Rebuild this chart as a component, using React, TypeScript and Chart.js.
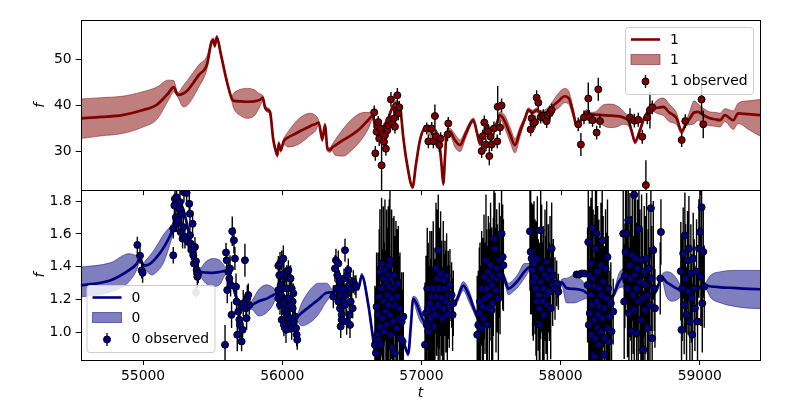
import React, { useEffect, useRef } from "react";
import { Chart, registerables } from "chart.js";

Chart.register(...registerables);

// ---------- axes ----------
const X_MIN = 54552;
const X_MAX = 59435;
const X_TICKS = [55000, 56000, 57000, 58000, 59000];
const TOP_Y_MIN = 21.6;
const TOP_Y_MAX = 58.5;
const TOP_Y_TICKS = [30, 40, 50];
const BOT_Y_MIN = 0.832;
const BOT_Y_MAX = 1.867;
const BOT_Y_TICKS = [1.0, 1.2, 1.4, 1.6, 1.8];

// ---------- top panel ("1") GP prediction ----------
const topT = [54552, 54700, 54850, 55000, 55100, 55180, 55220, 55250, 55289, 55320, 55400, 55460, 55490, 55505, 55515, 55530, 55560, 55600, 55637, 55650, 55700, 55750, 55800, 55840, 55860, 55876, 55895, 55912, 55936, 55955, 55965, 55975, 55990, 56010, 56040, 56090, 56140, 56200, 56240, 56262, 56288, 56307, 56325, 56345, 56355, 56380, 56440, 56500, 56560, 56620, 56650, 56670, 56700, 56730, 56760, 56790, 56820, 56846, 56870, 56893, 56937, 56960, 56990, 57025, 57050, 57080, 57110, 57130, 57145, 57157, 57170, 57181, 57205, 57240, 57277, 57320, 57373, 57400, 57421, 57445, 57469, 57500, 57540, 57565, 57600, 57640, 57672, 57710, 57745, 57768, 57800, 57830, 57860, 57900, 57930, 57980, 58030, 58060, 58090, 58115, 58150, 58187, 58210, 58250, 58300, 58350, 58400, 58450, 58490, 58510, 58535, 58570, 58600, 58630, 58660, 58700, 58738, 58780, 58834, 58870, 58900, 58929, 58960, 58989, 59020, 59073, 59110, 59145, 59181, 59241, 59276, 59350, 59435];
const topMean = [37.2, 37.5, 37.9, 39.0, 40.2, 42.6, 44.0, 42.3, 42.6, 43.3, 46.6, 49.0, 53.6, 54.2, 53.0, 54.8, 51.0, 45.5, 41.5, 41.0, 40.9, 40.8, 40.9, 41.2, 41.7, 39.6, 39.0, 38.6, 32.5, 30.0, 29.2, 31.7, 30.3, 32.2, 33.0, 33.8, 34.6, 35.5, 36.0, 36.3, 32.6, 35.7, 30.6, 30.3, 30.8, 31.3, 32.5, 33.6, 35.0, 36.9, 37.8, 35.0, 34.0, 35.5, 37.0, 39.5, 40.5, 39.7, 33.0, 28.0, 22.3, 27.0, 32.5, 35.0, 35.0, 33.8, 33.2, 31.5, 27.0, 23.0, 29.0, 33.9, 34.3, 32.5, 31.4, 34.0, 36.8, 34.0, 31.7, 33.5, 35.7, 34.5, 36.0, 37.9, 36.5, 33.5, 31.4, 34.5, 37.2, 39.0, 38.5, 39.0, 38.3, 38.5, 39.5, 40.8, 42.0, 41.5, 38.5, 35.7, 37.0, 38.6, 38.0, 38.0, 37.9, 37.8, 37.7, 37.4, 36.5, 34.5, 32.1, 34.6, 37.2, 38.6, 39.3, 39.5, 39.7, 38.5, 37.2, 34.3, 36.0, 37.2, 38.5, 38.6, 38.0, 37.2, 37.0, 36.8, 37.9, 36.8, 38.3, 38.1, 37.9];
const topHi = [41.4, 41.7, 42.0, 43.0, 44.0, 45.5, 45.4, 42.8, 44.3, 45.5, 48.8, 50.8, 54.1, 54.7, 53.5, 55.3, 51.5, 46.0, 42.0, 42.6, 43.5, 43.7, 43.4, 42.5, 42.2, 40.1, 39.5, 39.1, 33.0, 30.5, 29.7, 32.2, 30.8, 32.7, 34.2, 36.2, 37.6, 38.3, 37.8, 36.8, 33.1, 36.2, 31.1, 30.8, 31.3, 32.5, 35.0, 37.0, 38.3, 38.5, 38.3, 35.5, 34.5, 36.0, 37.5, 40.0, 41.0, 40.2, 33.5, 28.5, 22.8, 27.5, 33.0, 35.5, 35.8, 35.0, 34.6, 32.5, 27.6, 23.5, 29.5, 34.4, 35.0, 33.8, 32.5, 34.8, 37.3, 34.5, 32.2, 34.0, 36.2, 35.0, 36.5, 38.6, 37.8, 35.0, 32.8, 35.5, 37.7, 39.5, 39.0, 39.5, 38.8, 39.3, 40.3, 42.5, 43.7, 43.0, 39.5, 36.2, 37.5, 39.1, 38.5, 38.6, 40.0, 40.3, 40.0, 38.8, 37.2, 35.0, 32.6, 35.1, 37.7, 39.1, 39.9, 41.3, 41.6, 40.3, 38.3, 34.8, 36.5, 38.8, 41.0, 40.3, 39.5, 38.6, 38.5, 38.3, 39.3, 38.8, 40.5, 41.0, 41.3];
const topLo = [32.8, 33.4, 33.9, 35.3, 37.0, 41.0, 42.9, 41.8, 39.7, 40.1, 44.0, 48.0, 53.1, 53.7, 52.5, 54.3, 50.5, 45.0, 41.0, 39.5, 37.8, 37.2, 37.8, 39.8, 41.0, 39.1, 38.5, 38.1, 32.0, 29.5, 28.7, 31.2, 29.8, 31.6, 31.0, 31.2, 32.0, 33.5, 34.5, 35.8, 32.1, 35.2, 30.1, 29.8, 30.3, 29.2, 29.0, 30.3, 32.2, 35.0, 37.0, 34.5, 33.5, 35.0, 36.5, 39.0, 40.0, 39.2, 32.5, 27.5, 21.8, 26.5, 32.0, 34.5, 34.0, 32.3, 31.5, 30.0, 26.4, 22.5, 28.5, 33.4, 33.5, 31.0, 30.0, 33.0, 36.3, 33.5, 31.2, 33.0, 35.2, 34.0, 35.5, 37.0, 35.0, 31.8, 29.7, 33.3, 36.7, 38.5, 38.0, 38.5, 37.8, 37.5, 38.7, 39.3, 40.6, 40.2, 37.5, 35.2, 36.5, 38.1, 37.5, 37.3, 35.8, 35.2, 35.3, 35.9, 35.5, 34.0, 31.6, 34.1, 36.7, 38.1, 38.7, 38.2, 37.8, 36.5, 35.8, 33.8, 35.5, 35.8, 36.0, 36.8, 36.0, 35.6, 35.5, 35.3, 36.5, 34.8, 36.1, 34.8, 33.3];

// ---------- bottom panel ("0") GP prediction ----------
const botT = [54552, 54763, 54900, 54954, 54978, 55002, 55030, 55060, 55100, 55150, 55200, 55240, 55275, 55313, 55361, 55409, 55450, 55500, 55550, 55590, 55610, 55637, 55673, 55709, 55744, 55780, 55830, 55888, 55940, 55960, 56032, 56080, 56104, 56140, 56200, 56260, 56319, 56367, 56439, 56511, 56547, 56571, 56619, 56650, 56667, 56700, 56730, 56760, 56790, 56820, 56850, 56880, 56905, 56925, 56941, 56965, 56990, 57025, 57060, 57100, 57150, 57205, 57253, 57301, 57340, 57380, 57409, 57450, 57500, 57541, 57565, 57601, 57625, 57661, 57697, 57740, 57780, 57840, 57900, 57960, 57980, 58006, 58043, 58100, 58160, 58211, 58270, 58331, 58379, 58420, 58463, 58500, 58560, 58619, 58679, 58727, 58760, 58800, 58840, 58882, 58954, 59037, 59080, 59150, 59241, 59350, 59435];
const botMean = [1.287, 1.317, 1.38, 1.418, 1.453, 1.408, 1.41, 1.425, 1.46, 1.52, 1.6, 1.69, 1.77, 1.67, 1.47, 1.372, 1.365, 1.363, 1.368, 1.375, 1.37, 1.307, 1.206, 1.145, 1.15, 1.166, 1.19, 1.206, 1.23, 1.236, 1.206, 1.135, 1.095, 1.12, 1.16, 1.2, 1.242, 1.246, 1.277, 1.287, 1.267, 1.347, 1.166, 0.98, 0.883, 0.85, 0.95, 1.05, 1.1, 1.05, 1.0, 0.92, 0.87, 1.05, 1.205, 1.175, 1.12, 1.06, 1.1, 1.12, 1.13, 1.156, 1.196, 1.285, 1.23, 1.14, 1.085, 1.15, 1.22, 1.347, 1.388, 1.317, 1.265, 1.287, 1.32, 1.37, 1.398, 1.36, 1.32, 1.287, 1.226, 1.307, 1.27, 1.265, 1.255, 1.226, 1.21, 1.196, 1.226, 1.31, 1.343, 1.345, 1.34, 1.337, 1.246, 1.337, 1.307, 1.285, 1.265, 1.246, 1.257, 1.287, 1.28, 1.275, 1.271, 1.266, 1.263];
const botHi = [1.398, 1.424, 1.48, 1.47, 1.47, 1.425, 1.45, 1.48, 1.53, 1.6, 1.65, 1.705, 1.785, 1.685, 1.485, 1.392, 1.43, 1.45, 1.44, 1.4, 1.385, 1.322, 1.221, 1.16, 1.165, 1.19, 1.26, 1.29, 1.27, 1.251, 1.221, 1.15, 1.11, 1.18, 1.26, 1.3, 1.3, 1.261, 1.292, 1.302, 1.282, 1.362, 1.181, 0.995, 0.898, 0.865, 0.965, 1.065, 1.115, 1.065, 1.015, 0.935, 0.885, 1.065, 1.22, 1.21, 1.16, 1.075, 1.115, 1.135, 1.145, 1.171, 1.215, 1.31, 1.26, 1.16, 1.1, 1.165, 1.235, 1.362, 1.403, 1.34, 1.3, 1.32, 1.36, 1.42, 1.42, 1.375, 1.335, 1.302, 1.241, 1.322, 1.33, 1.35, 1.31, 1.241, 1.225, 1.211, 1.241, 1.36, 1.39, 1.37, 1.355, 1.352, 1.261, 1.352, 1.37, 1.36, 1.32, 1.261, 1.272, 1.3, 1.35, 1.37, 1.378, 1.378, 1.378];
const botLo = [1.216, 1.246, 1.31, 1.38, 1.436, 1.39, 1.37, 1.35, 1.37, 1.43, 1.555, 1.675, 1.755, 1.655, 1.455, 1.352, 1.3, 1.28, 1.29, 1.35, 1.355, 1.292, 1.191, 1.13, 1.135, 1.14, 1.1, 1.12, 1.18, 1.221, 1.191, 1.12, 1.08, 1.04, 1.06, 1.11, 1.19, 1.231, 1.262, 1.272, 1.252, 1.332, 1.151, 0.965, 0.868, 0.835, 0.935, 1.035, 1.085, 1.035, 0.985, 0.905, 0.855, 1.035, 1.19, 1.13, 1.07, 1.045, 1.085, 1.105, 1.115, 1.141, 1.175, 1.255, 1.19, 1.115, 1.07, 1.135, 1.205, 1.332, 1.373, 1.29, 1.23, 1.25, 1.28, 1.33, 1.375, 1.345, 1.305, 1.272, 1.211, 1.292, 1.18, 1.18, 1.2, 1.211, 1.195, 1.181, 1.211, 1.27, 1.28, 1.31, 1.325, 1.322, 1.231, 1.322, 1.22, 1.19, 1.2, 1.231, 1.242, 1.27, 1.21, 1.18, 1.16, 1.148, 1.145];

// ---------- observations: [t, f, error] ----------
const topObs = [
  [56661, 38.5, 1.5], [56669, 29.6, 1.6], [56678, 34.3, 1.4], [56683, 35.4, 1.5], [56690, 36.4, 1.3], [56697, 32.8, 1.6], [56707, 35.0, 1.4], [56714, 27.0, 5.5], [56721, 33.9, 1.5], [56731, 32.1, 1.4], [56738, 33.5, 1.6], [56745, 30.6, 1.5], [56755, 34.6, 1.4], [56762, 35.7, 1.5], [56769, 36.8, 1.4], [56781, 41.3, 1.6], [56793, 36.1, 1.5], [56803, 37.2, 1.4], [56810, 35.4, 1.5], [56822, 39.0, 1.4], [56827, 42.2, 1.6], [56834, 38.3, 1.5], [56841, 39.6, 1.4],
  [57038, 35.0, 1.3], [57050, 32.2, 1.5], [57074, 35.0, 1.4], [57086, 32.2, 1.5], [57097, 37.7, 2.5], [57105, 33.3, 1.4], [57129, 31.4, 1.5], [57138, 32.8, 1.4], [57188, 33.7, 1.5], [57193, 36.1, 1.4],
  [57433, 30.1, 1.5], [57440, 33.3, 1.4], [57452, 36.3, 1.5], [57464, 31.5, 1.4], [57481, 34.3, 1.6], [57488, 29.0, 2.0], [57497, 33.2, 1.5], [57505, 31.5, 1.4], [57521, 35.0, 1.5], [57545, 32.2, 1.5], [57548, 39.7, 4.5], [57565, 35.2, 1.6], [57576, 40.0, 1.5],
  [57785, 34.8, 1.5], [57792, 37.2, 1.4], [57804, 36.1, 1.5], [57816, 36.4, 1.4], [57828, 41.7, 1.6], [57840, 40.6, 1.5], [57857, 37.5, 1.4], [57876, 37.7, 1.5], [57888, 37.2, 1.4], [57900, 36.6, 1.5], [57907, 37.9, 1.4], [57924, 38.4, 1.5], [57936, 39.0, 1.4],
  [58127, 35.9, 1.5], [58146, 31.5, 2.5], [58168, 37.4, 1.5], [58199, 41.5, 3.5], [58206, 37.5, 1.5], [58230, 36.8, 1.4], [58259, 34.1, 1.5], [58271, 43.5, 2.5], [58283, 36.6, 1.5],
  [58499, 37.4, 2.0], [58530, 36.7, 1.5], [58558, 36.9, 1.5], [58587, 33.2, 1.5], [58613, 22.7, 5.4], [58623, 37.4, 1.5], [58642, 39.0, 4.0], [58659, 39.6, 1.5],
  [58870, 32.5, 1.5], [58896, 36.6, 1.5], [59013, 41.3, 3.2], [59025, 35.9, 3.0],
];

const botObsEarly = [
  [54959, 1.533, 0.05], [54978, 1.468, 0.05], [54990, 1.378, 0.05], [54997, 1.363, 0.06],
  [55217, 1.47, 0.05], [55217, 1.632, 0.06], [55225, 1.774, 0.07], [55229, 1.814, 0.06], [55241, 1.824, 0.07], [55236, 1.703, 0.06], [55241, 1.662, 0.05], [55253, 1.683, 0.07], [55260, 1.753, 0.06], [55265, 1.794, 0.08], [55270, 1.612, 0.06], [55277, 1.723, 0.07], [55284, 1.571, 0.06], [55289, 1.642, 0.08], [55294, 1.854, 0.06], [55301, 1.582, 0.07], [55313, 1.85, 0.08], [55325, 1.551, 0.06], [55332, 1.784, 0.07], [55337, 1.723, 0.08], [55337, 1.592, 0.06], [55342, 1.541, 0.07], [55349, 1.501, 0.06], [55356, 1.662, 0.08], [55361, 1.47, 0.06], [55366, 1.42, 0.07], [55373, 1.521, 0.06], [55380, 1.434, 0.07], [55385, 1.38, 0.06], [55390, 1.339, 0.07], [55397, 1.359, 0.06],
  [55589, 0.925, 0.12], [55596, 1.487, 0.06], [55601, 1.44, 0.07], [55605, 1.258, 0.08], [55613, 1.369, 0.07], [55620, 1.329, 0.06], [55625, 1.39, 0.08], [55629, 1.289, 0.07], [55636, 1.107, 0.08], [55641, 1.616, 0.09], [55653, 1.561, 0.08], [55660, 1.45, 0.07], [55668, 1.279, 0.08], [55672, 1.188, 0.07], [55677, 0.986, 0.1], [55684, 1.127, 0.08], [55692, 1.077, 0.07], [55696, 1.046, 0.08], [55708, 0.945, 0.06], [55715, 1.016, 0.07], [55720, 1.178, 0.08], [55732, 1.44, 0.1], [55739, 1.147, 0.08], [55744, 1.087, 0.07], [55749, 1.208, 0.08], [55756, 1.228, 0.07], [55763, 1.167, 0.06],
  [55972, 1.406, 0.06], [55984, 1.42, 0.07], [55996, 1.44, 0.06], [56008, 1.45, 0.08], [55979, 1.349, 0.07], [55989, 1.289, 0.06], [56003, 1.268, 0.07], [56012, 1.359, 0.08], [56020, 1.329, 0.06], [56032, 1.339, 0.07], [56044, 1.38, 0.06], [56051, 1.333, 0.07], [56060, 1.329, 0.08], [56068, 1.268, 0.06], [56075, 1.188, 0.07], [56080, 1.238, 0.06], [55972, 1.208, 0.07], [55984, 1.167, 0.06], [55996, 1.218, 0.08], [56008, 1.178, 0.07], [56020, 1.127, 0.06], [56032, 1.157, 0.07], [56036, 1.107, 0.08], [56044, 1.208, 0.06], [56051, 1.087, 0.07], [56056, 1.056, 0.06], [56068, 1.026, 0.07], [56075, 1.147, 0.08], [56084, 1.066, 0.06], [56092, 1.097, 0.07], [56099, 1.026, 0.06], [56104, 0.986, 0.07], [56108, 0.955, 0.06], [55972, 1.258, 0.07], [55996, 1.077, 0.06], [56012, 1.046, 0.07], [56027, 1.016, 0.08], [55989, 1.228, 0.06], [56032, 1.268, 0.07], [56056, 1.167, 0.06],
  [56367, 1.218, 0.07], [56379, 1.39, 0.08], [56386, 1.44, 0.07], [56391, 1.268, 0.06], [56396, 1.349, 0.07], [56403, 1.42, 0.08], [56403, 1.188, 0.06], [56410, 1.309, 0.07], [56415, 1.147, 0.08], [56420, 1.228, 0.06], [56427, 1.107, 0.07], [56427, 1.077, 0.06], [56434, 1.268, 0.07], [56439, 1.188, 0.08], [56444, 1.329, 0.06], [56451, 1.501, 0.07], [56451, 1.167, 0.06], [56458, 1.228, 0.07], [56463, 1.066, 0.08], [56468, 1.349, 0.06], [56475, 1.38, 0.07], [56475, 1.268, 0.06], [56482, 1.107, 0.07], [56487, 1.299, 0.08], [56492, 1.188, 0.06], [56499, 1.268, 0.07], [56506, 1.147, 0.06], [56511, 1.309, 0.07], [56523, 1.289, 0.06], [56530, 1.279, 0.07], [56420, 1.036, 0.07], [56487, 1.046, 0.08],
];

const botObsMid = [
  [56666, 0.925, 0.36], [56673, 0.874, 0.4], [56678, 1.157, 0.33], [56683, 0.986, 0.42], [56690, 1.107, 0.38], [56690, 0.955, 0.35], [56697, 1.218, 0.41], [56702, 1.036, 0.44], [56707, 0.925, 0.37], [56714, 1.42, 0.4], [56714, 1.268, 0.35], [56721, 1.087, 0.42], [56726, 1.329, 0.44], [56731, 1.188, 0.36], [56731, 1.006, 0.39], [56738, 1.38, 0.43], [56745, 1.127, 0.37], [56750, 1.299, 0.45], [56750, 1.046, 0.36], [56755, 1.228, 0.41], [56762, 1.349, 0.42], [56762, 1.167, 0.35], [56769, 1.279, 0.38], [56774, 1.44, 0.44], [56774, 1.107, 0.36], [56779, 0.986, 0.4], [56786, 1.329, 0.42], [56786, 1.208, 0.37], [56793, 0.905, 0.35], [56798, 1.268, 0.43], [56798, 1.066, 0.38], [56803, 1.349, 0.36], [56810, 1.167, 0.42], [56810, 0.874, 0.32], [56817, 1.289, 0.39], [56822, 1.026, 0.37], [56827, 1.218, 0.41], [56834, 1.299, 0.35], [56841, 1.087, 0.38], [56846, 1.147, 0.34], [56851, 0.965, 0.36], [56858, 1.066, 0.3], [56865, 0.945, 0.32], [56870, 1.097, 0.27], [56702, 1.37, 0.38], [56769, 1.41, 0.4],
  [57026, 0.925, 0.38], [57033, 1.117, 0.35], [57038, 1.046, 0.42], [57042, 1.268, 0.37], [57049, 1.147, 0.4], [57057, 1.066, 0.34], [57061, 1.178, 0.44], [57066, 1.087, 0.36], [57073, 1.218, 0.4], [57081, 1.046, 0.35], [57085, 1.268, 0.41], [57090, 1.147, 0.37], [57097, 1.107, 0.34], [57105, 1.39, 0.4], [57109, 1.218, 0.36], [57114, 1.329, 0.42], [57121, 1.501, 0.34], [57121, 1.167, 0.4], [57128, 1.268, 0.37], [57133, 1.097, 0.33], [57138, 1.359, 0.38], [57145, 1.208, 0.35], [57152, 1.087, 0.31], [57157, 1.319, 0.36], [57162, 1.147, 0.33], [57169, 1.268, 0.29], [57176, 1.188, 0.31], [57181, 1.345, 0.26], [57186, 1.107, 0.3], [57193, 1.228, 0.27], [57200, 1.157, 0.25], [57205, 1.289, 0.22], [57217, 1.228, 0.2], [57224, 1.107, 0.22], [57229, 1.178, 0.2], [57049, 1.006, 0.36], [57090, 1.036, 0.4],
  [57401, 0.986, 0.36], [57409, 1.046, 0.33], [57416, 1.117, 0.4], [57421, 1.188, 0.36], [57426, 1.026, 0.38], [57433, 1.268, 0.35], [57440, 1.157, 0.42], [57445, 1.087, 0.37], [57450, 1.339, 0.38], [57457, 1.208, 0.34], [57464, 1.44, 0.4], [57469, 1.268, 0.36], [57474, 1.147, 0.38], [57481, 1.37, 0.34], [57488, 1.228, 0.4], [57493, 1.309, 0.36], [57497, 1.41, 0.38], [57505, 1.289, 0.35], [57512, 1.178, 0.41], [57517, 1.339, 0.36], [57521, 1.571, 0.38], [57529, 1.511, 0.34], [57536, 1.258, 0.38], [57541, 1.39, 0.36], [57546, 1.329, 0.33], [57553, 1.208, 0.38], [57560, 1.44, 0.35], [57565, 1.349, 0.36], [57576, 1.602, 0.38], [57584, 1.46, 0.32], [57589, 1.41, 0.28], [57469, 1.046, 0.36], [57505, 1.137, 0.38],
  [57780, 1.616, 0.36], [57785, 1.491, 0.38], [57792, 1.45, 0.34], [57799, 1.38, 0.4], [57804, 1.309, 0.36], [57809, 1.42, 0.38], [57816, 1.339, 0.35], [57823, 1.268, 0.41], [57828, 1.188, 0.37], [57833, 1.45, 0.38], [57840, 1.228, 0.34], [57847, 1.147, 0.4], [57852, 1.046, 0.36], [57857, 1.622, 0.38], [57857, 1.309, 0.35], [57864, 1.39, 0.39], [57871, 1.188, 0.36], [57876, 1.268, 0.38], [57881, 1.107, 0.34], [57888, 1.349, 0.4], [57895, 1.228, 0.36], [57900, 1.43, 0.37], [57905, 1.167, 0.34], [57912, 1.329, 0.33], [57919, 1.248, 0.3], [57924, 1.38, 0.33], [57929, 1.147, 0.31], [57936, 1.511, 0.28], [57943, 1.289, 0.25], [57948, 1.349, 0.22], [57960, 1.268, 0.19], [57972, 1.299, 0.14], [57984, 1.248, 0.11],
];

const botObsLate = [
  [58115, 1.353, 0.02], [58131, 1.353, 0.02], [58151, 1.359, 0.02], [58170, 1.359, 0.02],
  [58194, 1.289, 0.35], [58199, 1.551, 0.4], [58203, 1.046, 0.38], [58210, 1.349, 0.42], [58210, 1.117, 0.36], [58218, 1.42, 0.4], [58218, 1.228, 0.44], [58222, 0.986, 0.38], [58227, 1.636, 0.4], [58227, 1.167, 0.35], [58234, 1.329, 0.42], [58234, 0.864, 0.4], [58242, 1.077, 0.38], [58246, 1.279, 0.44], [58251, 1.511, 0.4], [58251, 0.965, 0.36], [58258, 1.188, 0.42], [58258, 1.602, 0.38], [58266, 1.37, 0.4], [58266, 1.026, 0.44], [58270, 1.107, 0.38], [58275, 1.268, 0.42], [58275, 0.925, 0.36], [58282, 1.157, 0.4], [58290, 1.41, 0.38], [58290, 1.006, 0.42], [58294, 1.228, 0.4], [58299, 1.561, 0.36], [58299, 1.087, 0.44], [58306, 1.309, 0.4], [58313, 1.147, 0.38], [58318, 0.965, 0.42], [58323, 1.39, 0.36], [58330, 1.208, 0.4], [58337, 1.026, 0.38], [58337, 1.46, 0.35], [58342, 1.268, 0.32], [58347, 0.945, 0.3], [58354, 1.097, 0.28], [58361, 1.178, 0.25], [58366, 1.006, 0.22], [58378, 1.127, 0.2], [58242, 0.854, 0.4], [58313, 0.864, 0.42],
  [58450, 1.602, 0.3], [58457, 1.188, 0.35], [58462, 1.345, 0.32], [58467, 1.491, 0.38], [58474, 1.602, 0.4], [58481, 1.268, 0.42], [58486, 1.683, 0.36], [58491, 1.117, 0.4], [58498, 1.41, 0.44], [58505, 1.329, 0.38], [58510, 1.006, 0.42], [58515, 1.47, 0.4], [58522, 1.228, 0.36], [58529, 1.838, 0.4], [58529, 1.137, 0.42], [58534, 1.349, 0.38], [58539, 1.45, 0.44], [58546, 1.268, 0.4], [58546, 0.996, 0.36], [58553, 1.39, 0.42], [58558, 1.188, 0.38], [58563, 1.632, 0.4], [58570, 1.309, 0.44], [58577, 1.077, 0.38], [58582, 1.44, 0.4], [58587, 1.208, 0.42], [58594, 0.895, 0.36], [58601, 1.37, 0.4], [58606, 1.137, 0.38], [58611, 1.289, 0.42], [58618, 1.45, 0.4], [58625, 1.026, 0.36], [58630, 1.228, 0.4], [58634, 1.39, 0.38], [58642, 1.167, 0.35], [58649, 1.757, 0.3], [58654, 1.329, 0.32], [58658, 0.965, 0.28], [58666, 1.501, 0.3], [58673, 1.268, 0.26], [58678, 1.147, 0.24], [58721, 1.612, 0.2], [58716, 1.329, 0.22],
  [58864, 1.373, 0.3], [58869, 1.016, 0.26], [58874, 1.268, 0.32], [58881, 1.481, 0.28], [58888, 1.167, 0.3], [58893, 1.592, 0.26], [58898, 1.329, 0.33], [58905, 1.107, 0.29], [58912, 1.44, 0.3], [58917, 1.248, 0.26], [58922, 1.511, 0.32], [58929, 1.066, 0.28], [58936, 1.359, 0.3], [58941, 1.208, 0.27], [58946, 0.986, 0.31], [58953, 1.45, 0.28], [58960, 1.268, 0.3], [58965, 1.147, 0.26], [58977, 1.37, 0.32], [58984, 1.066, 0.28], [58994, 1.511, 0.3], [59001, 1.612, 0.27], [59008, 1.339, 0.3], [59013, 1.763, 0.26], [59018, 1.178, 0.3], [59025, 1.491, 0.28], [59032, 1.279, 0.25],
];

// masked (grey) observation in the bottom panel
const botObsMasked = [[55380, 1.244, 0.035]];

// ---------- colours ----------
const TOP_COLOR = "#800000";
const TOP_BAND = "rgba(128,0,0,0.5)";
const BOT_COLOR = "#000080";
const BOT_BAND = "rgba(0,0,128,0.5)";
const FONT = "DejaVu Sans";
const FS = 13.9;

// ---------- helpers building library data from the arrays ----------
const series = (ts: number[], vs: number[]) => ts.map((t, i) => ({ x: t, y: vs[i] }));
const points = (obs: number[][]) => obs.map((o) => ({ x: o[0], y: o[1] }));
const bars = (obs: number[][]) => {
  const out: any[] = [];
  obs.forEach((o) => {
    out.push({ x: o[0], y: o[1] - o[2] });
    out.push({ x: o[0], y: o[1] + o[2] });
    out.push({ x: o[0], y: null });
  });
  return out;
};

function roundRectPath(ctx: CanvasRenderingContext2D, x: number, y: number, w: number, h: number, r: number) {
  ctx.beginPath();
  ctx.moveTo(x + r, y);
  ctx.lineTo(x + w - r, y);
  ctx.arcTo(x + w, y, x + w, y + r, r);
  ctx.lineTo(x + w, y + h - r);
  ctx.arcTo(x + w, y + h, x + w - r, y + h, r);
  ctx.lineTo(x + r, y + h);
  ctx.arcTo(x, y + h, x, y + h - r, r);
  ctx.lineTo(x, y + r);
  ctx.arcTo(x, y, x + r, y, r);
  ctx.closePath();
}

function drawLegend(ctx: CanvasRenderingContext2D, x0: number, y0: number, color: string, band: string, name: string) {
  ctx.save();
  roundRectPath(ctx, x0 + 0.5, y0 + 0.5, 128, 67, 3);
  ctx.fillStyle = "rgba(255,255,255,0.8)";
  ctx.fill();
  ctx.strokeStyle = "#cccccc";
  ctx.lineWidth = 1;
  ctx.stroke();
  ctx.strokeStyle = color;
  ctx.lineWidth = 2.6;
  ctx.beginPath();
  ctx.moveTo(x0 + 6, y0 + 12.5);
  ctx.lineTo(x0 + 35, y0 + 12.5);
  ctx.stroke();
  ctx.fillStyle = band;
  ctx.fillRect(x0 + 6, y0 + 27.5, 29, 10);
  ctx.strokeStyle = band;
  ctx.lineWidth = 1;
  ctx.strokeRect(x0 + 6, y0 + 27.5, 29, 10);
  ctx.strokeStyle = "#000";
  ctx.lineWidth = 1.3;
  ctx.beginPath();
  ctx.moveTo(x0 + 20.5, y0 + 48);
  ctx.lineTo(x0 + 20.5, y0 + 61);
  ctx.stroke();
  ctx.beginPath();
  ctx.arc(x0 + 20.5, y0 + 54.5, 3.5, 0, Math.PI * 2);
  ctx.fillStyle = color;
  ctx.fill();
  ctx.lineWidth = 1;
  ctx.stroke();
  ctx.fillStyle = "#000";
  ctx.font = `${FS}px "${FONT}"`;
  ctx.textBaseline = "middle";
  ctx.textAlign = "left";
  ctx.fillText(name, x0 + 45, y0 + 13);
  ctx.fillText(name, x0 + 45, y0 + 33.5);
  ctx.fillText(name + " observed", x0 + 45, y0 + 54.5);
  ctx.restore();
}

const panelPlugin = {
  id: "panels",
  afterDraw(chart: any) {
    const ctx = chart.ctx as CanvasRenderingContext2D;
    const x = chart.scales.x;
    const yT = chart.scales.yTop;
    const yB = chart.scales.yBot;
    ctx.save();
    ctx.strokeStyle = "#000";
    ctx.lineWidth = 1;
    const L = Math.round(x.left) + 0.5;
    const R = Math.round(x.right) + 0.5;
    [yT, yB].forEach((s: any) => {
      const T = Math.round(s.top) + 0.5;
      const B = Math.round(s.bottom) + 0.5;
      ctx.strokeRect(L, T, R - L, B - T);
    });
    ctx.beginPath();
    X_TICKS.forEach((v) => {
      const px = Math.round(x.getPixelForValue(v)) + 0.5;
      ctx.moveTo(px, yT.bottom);
      ctx.lineTo(px, yT.bottom + 5);
    });
    ctx.stroke();
    ctx.restore();
    drawLegend(ctx, 625, 27, TOP_COLOR, TOP_BAND, "1");
    drawLegend(ctx, 86.5, 285, BOT_COLOR, BOT_BAND, "0");
  },
};

const tickFont = { family: FONT, size: FS };
const titleFont = { family: FONT, size: FS, style: "italic" as const, lineHeight: 1 };

function yScale(min: number, max: number, ticks: number[], fmt: (v: number) => string, weight: number) {
  return {
    type: "linear" as const,
    position: "left" as const,
    stack: "panels",
    stackWeight: 1,
    weight,
    min,
    max,
    afterBuildTicks: (s: any) => {
      s.ticks = ticks.map((v) => ({ value: v }));
    },
    afterFit: (s: any) => {
      s.width = 72;
    },
    ticks: { font: tickFont, color: "#000", padding: 4, callback: (v: any) => fmt(Number(v)) },
    grid: { display: true, drawOnChartArea: false, drawTicks: true, tickLength: 5, color: "#000", lineWidth: 1 },
    border: { display: false },
    title: { display: true, text: "f", font: titleFont, color: "#000", padding: { top: 25, bottom: 0 } },
  };
}

export default function App() {
  const ref = useRef<HTMLCanvasElement>(null);
  useEffect(() => {
    if (!ref.current) return;
    const smooth = { pointRadius: 0, cubicInterpolationMode: "monotone", spanGaps: false, clip: 0 };
    const straight = { pointRadius: 0, tension: 0, spanGaps: false, clip: 0 };
    const allBot = [...botObsEarly, ...botObsMid, ...botObsLate];
    const datasets: any[] = [
      { ...smooth, yAxisID: "yTop", data: series(topT, topLo), borderColor: TOP_BAND, borderWidth: 1, fill: false, order: 10 },
      { ...smooth, yAxisID: "yTop", data: series(topT, topHi), borderColor: TOP_BAND, borderWidth: 1, backgroundColor: TOP_BAND, fill: "-1", order: 10 },
      { ...smooth, yAxisID: "yBot", data: series(botT, botLo), borderColor: BOT_BAND, borderWidth: 1, fill: false, order: 10 },
      { ...smooth, yAxisID: "yBot", data: series(botT, botHi), borderColor: BOT_BAND, borderWidth: 1, backgroundColor: BOT_BAND, fill: "-1", order: 10 },
      { ...smooth, yAxisID: "yTop", data: series(topT, topMean), borderColor: TOP_COLOR, borderWidth: 2.7, fill: false, order: 5 },
      { ...smooth, yAxisID: "yBot", data: series(botT, botMean), borderColor: BOT_COLOR, borderWidth: 2.7, fill: false, order: 5 },
      { ...straight, yAxisID: "yTop", data: bars(topObs), borderColor: "#000", borderWidth: 1.4, fill: false, order: 3 },
      { ...straight, yAxisID: "yBot", data: bars(allBot), borderColor: "#000", borderWidth: 1.4, fill: false, order: 3 },
      { ...straight, yAxisID: "yBot", data: bars(botObsMasked), borderColor: "#9a9a9a", borderWidth: 1.4, fill: false, order: 3 },
      { yAxisID: "yTop", data: points(topObs), showLine: false, clip: 0, pointRadius: 3.5, pointBackgroundColor: TOP_COLOR, pointBorderColor: "#000", pointBorderWidth: 1, order: 1 },
      { yAxisID: "yBot", data: points(allBot), showLine: false, clip: 0, pointRadius: 3.5, pointBackgroundColor: BOT_COLOR, pointBorderColor: "#000", pointBorderWidth: 1, order: 1 },
      { yAxisID: "yBot", data: points(botObsMasked), showLine: false, clip: 0, pointRadius: 3.5, pointBackgroundColor: "#8c8c96", pointBorderColor: "#8c8c96", pointBorderWidth: 1, order: 1 },
    ];
    const chart = new Chart(ref.current, {
      type: "line",
      data: { datasets },
      options: {
        responsive: false,
        animation: false,
        devicePixelRatio: 1,
        events: [],
        layout: { padding: { left: 8.7, right: 39.7, top: 20.3, bottom: 0 } },
        plugins: { legend: { display: false }, tooltip: { enabled: false } },
        scales: {
          x: {
            type: "linear",
            min: X_MIN,
            max: X_MAX,
            afterBuildTicks: (s: any) => {
              s.ticks = X_TICKS.map((v) => ({ value: v }));
            },
            afterFit: (s: any) => {
              s.height = 40;
            },
            ticks: { font: tickFont, color: "#000", padding: 3, maxRotation: 0, autoSkip: false, callback: (v: any) => String(v) },
            grid: { display: true, drawOnChartArea: false, drawTicks: true, tickLength: 5, color: "#000", lineWidth: 1 },
            border: { display: false },
            title: { display: true, text: "t", font: titleFont, color: "#000", padding: { top: 0, bottom: 0 } },
          },
          yBot: yScale(BOT_Y_MIN, BOT_Y_MAX, BOT_Y_TICKS, (v) => v.toFixed(1), 0),
          yTop: yScale(TOP_Y_MIN, TOP_Y_MAX, TOP_Y_TICKS, (v) => String(v), 1),
        } as any,
      },
      plugins: [panelPlugin],
    });
    return () => chart.destroy();
  }, []);
  return (
    <div style={{ position: "fixed", left: 0, top: 0, width: 800, height: 400, background: "#fff" }}>
      <canvas ref={ref} width={800} height={400} style={{ display: "block", width: 800, height: 400 }} />
    </div>
  );
}
